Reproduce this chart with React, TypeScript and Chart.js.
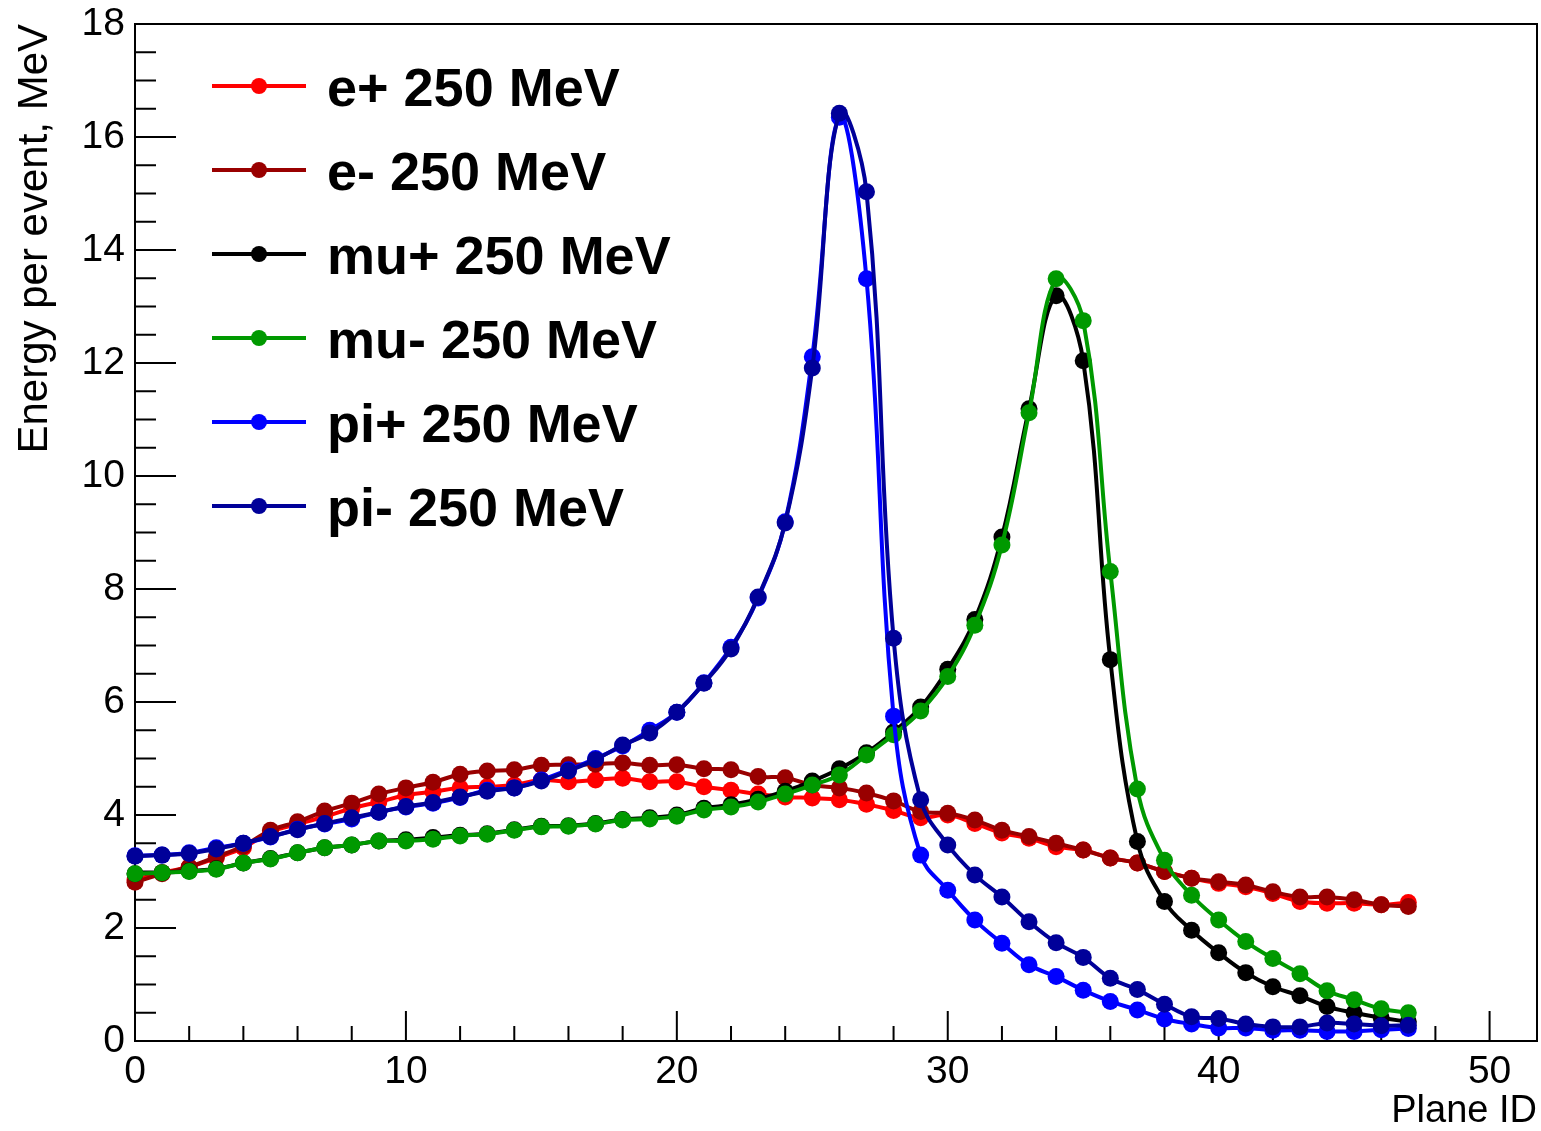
import React, { useEffect, useRef } from "react";
import { Chart, registerables } from "chart.js";

Chart.register(...registerables);

const planeIds = [
  0, 1, 2, 3, 4, 5, 6, 7, 8, 9, 10, 11, 12, 13, 14, 15, 16, 17, 18, 19, 20, 21, 22, 23,
  24, 25, 26, 27, 28, 29, 30, 31, 32, 33, 34, 35, 36, 37, 38, 39, 40, 41, 42, 43, 44, 45, 46, 47,
];

const ePlus = [
  2.85, 2.98, 3.08, 3.24, 3.42, 3.7, 3.84, 3.97, 4.12, 4.23, 4.35, 4.41, 4.48, 4.5, 4.53, 4.62,
  4.59, 4.62, 4.65, 4.59, 4.59, 4.5, 4.44, 4.37, 4.32, 4.3, 4.27, 4.19, 4.08, 3.95, 4.0, 3.85,
  3.68, 3.59, 3.44, 3.38, 3.24, 3.15, 3.0, 2.88, 2.79, 2.73, 2.61, 2.47, 2.44, 2.44, 2.41, 2.45,
];

const eMinus = [
  2.81, 2.96, 3.08, 3.26, 3.45, 3.73, 3.88, 4.07, 4.21, 4.37, 4.48, 4.58, 4.72, 4.78, 4.8, 4.88,
  4.89, 4.9, 4.92, 4.88, 4.89, 4.82, 4.8, 4.68, 4.66, 4.53, 4.48, 4.39, 4.25, 4.06, 4.03, 3.91,
  3.73, 3.62, 3.5, 3.38, 3.24, 3.15, 3.0, 2.88, 2.82, 2.76, 2.64, 2.55, 2.55, 2.5, 2.41, 2.38,
];

const muPlus = [
  2.96, 2.98, 3.01, 3.05, 3.15, 3.23, 3.33, 3.42, 3.47, 3.54, 3.56, 3.6, 3.64, 3.67, 3.74, 3.8,
  3.81, 3.85, 3.92, 3.95, 4.0, 4.12, 4.18, 4.28, 4.42, 4.6, 4.82, 5.1, 5.47, 5.91, 6.58, 7.46,
  8.92, 11.19, 13.19, 12.04, 6.75, 3.53, 2.47, 1.96, 1.56, 1.21, 0.96, 0.8, 0.61, 0.5, 0.41, 0.34,
];

const muMinus = [
  2.96, 2.98, 3.0, 3.04, 3.15, 3.22, 3.33, 3.42, 3.47, 3.54, 3.54, 3.57, 3.63, 3.66, 3.73, 3.79,
  3.8, 3.84, 3.91, 3.93, 3.98, 4.09, 4.14, 4.23, 4.37, 4.53, 4.71, 5.06, 5.42, 5.84, 6.45, 7.36,
  8.78, 11.12, 13.49, 12.75, 8.31, 4.46, 3.2, 2.58, 2.14, 1.76, 1.46, 1.19, 0.89, 0.73, 0.57, 0.5,
];

const piPlus = [
  3.28, 3.29, 3.33, 3.42, 3.5, 3.61, 3.75, 3.84, 3.93, 4.05, 4.14, 4.21, 4.31, 4.44, 4.48, 4.62,
  4.8, 5.0, 5.22, 5.5, 5.82, 6.34, 6.97, 7.84, 9.19, 12.11, 16.35, 13.49, 5.75, 3.29, 2.67, 2.14,
  1.73, 1.35, 1.14, 0.9, 0.7, 0.55, 0.39, 0.3, 0.23, 0.23, 0.19, 0.19, 0.17, 0.17, 0.2, 0.22,
];

const piMinus = [
  3.27, 3.29, 3.32, 3.4, 3.5, 3.62, 3.74, 3.85, 3.95, 4.05, 4.15, 4.22, 4.32, 4.42, 4.48, 4.6,
  4.78, 4.98, 5.24, 5.45, 5.82, 6.33, 6.94, 7.86, 9.17, 11.91, 16.42, 15.03, 7.13, 4.27, 3.47, 2.94,
  2.55, 2.11, 1.74, 1.48, 1.11, 0.91, 0.65, 0.43, 0.4, 0.3, 0.25, 0.25, 0.32, 0.3, 0.27, 0.28,
];

const seriesNames = [
  "e+ 250 MeV",
  "e- 250 MeV",
  "mu+ 250 MeV",
  "mu- 250 MeV",
  "pi+ 250 MeV",
  "pi- 250 MeV",
];

const seriesColors = ["#ff0000", "#990000", "#000000", "#009900", "#0000ff", "#000099"];

const xAxisTitle = "Plane ID";
const yAxisTitle = "Energy per event, MeV";

const FONT = "'Liberation Sans', Arial, Helvetica, sans-serif";

function zeroPadding(s: any) {
  s.paddingLeft = 0;
  s.paddingRight = 0;
  s.paddingTop = 0;
  s.paddingBottom = 0;
}

export default function App() {
  const canvasRef = useRef<HTMLCanvasElement | null>(null);

  useEffect(() => {
    const canvas = canvasRef.current;
    if (!canvas) return;

    const series = [ePlus, eMinus, muPlus, muMinus, piPlus, piMinus];

    const datasets = series.map((vals, i) => ({
      label: seriesNames[i],
      data: planeIds.map((x, j) => ({ x, y: vals[j] })),
      borderColor: seriesColors[i],
      backgroundColor: seriesColors[i],
      pointBackgroundColor: seriesColors[i],
      pointBorderColor: seriesColors[i],
      pointBorderWidth: 0,
      pointRadius: 8.5,
      borderWidth: 4,
      tension: 0.4,
      fill: false,
      clip: false as any,
      order: 5 - i,
    }));

    const framePlugin = {
      id: "rootFrame",
      beforeDatasetsDraw(chart: any) {
        const { ctx, chartArea } = chart;
        const xs = chart.scales.x;
        const ys = chart.scales.y;
        ctx.save();
        ctx.strokeStyle = "#000";
        ctx.lineWidth = 2;
        ctx.strokeRect(chartArea.left, chartArea.top, chartArea.right - chartArea.left, chartArea.bottom - chartArea.top);
        ctx.beginPath();
        for (let v = 0; v <= xs.max + 1e-9; v += 2) {
          const px = xs.getPixelForValue(v);
          const len = v % 10 === 0 ? 30 : 15;
          ctx.moveTo(px, chartArea.bottom);
          ctx.lineTo(px, chartArea.bottom - len);
        }
        for (let k = 0; k <= 36; k++) {
          const v = k * 0.5;
          const py = ys.getPixelForValue(v);
          const len = k % 4 === 0 ? 41 : 21;
          ctx.moveTo(chartArea.left, py);
          ctx.lineTo(chartArea.left + len, py);
        }
        ctx.stroke();
        ctx.restore();
      },
    };

    const legendPlugin = {
      id: "rootLegend",
      afterDatasetsDraw(chart: any) {
        const { ctx } = chart;
        ctx.save();
        seriesNames.forEach((name, i) => {
          const y = 86 + i * 84;
          ctx.strokeStyle = seriesColors[i];
          ctx.fillStyle = seriesColors[i];
          ctx.lineWidth = 4;
          ctx.beginPath();
          ctx.moveTo(212, y);
          ctx.lineTo(306, y);
          ctx.stroke();
          ctx.beginPath();
          ctx.arc(259, y, 8, 0, Math.PI * 2);
          ctx.fill();
          ctx.fillStyle = "#000";
          ctx.font = `bold 54px ${FONT}`;
          ctx.textBaseline = "alphabetic";
          ctx.textAlign = "left";
          ctx.fillText(name, 327, y + 20);
        });
        ctx.restore();
      },
    };

    const chart = new Chart(canvas, {
      type: "line",
      data: { datasets: datasets as any },
      options: {
        responsive: false,
        animation: false,
        devicePixelRatio: 1,
        layout: { autoPadding: false, padding: { top: 24, right: 4, left: 0, bottom: 0 } },
        plugins: {
          legend: { display: false },
          tooltip: { enabled: false },
        },
        scales: {
          x: {
            type: "linear",
            min: 0,
            max: 51.75,
            afterFit: (s: any) => {
              s.height = 90;
              zeroPadding(s);
            },
            grid: { display: false, drawTicks: false },
            border: { display: true, color: "#000", width: 2 },
            ticks: {
              stepSize: 10,
              includeBounds: false,
              padding: 8,
              color: "#000",
              maxRotation: 0,
              autoSkip: false,
              font: { family: FONT, size: 39 },
            },
            title: {
              display: true,
              text: xAxisTitle,
              align: "end",
              color: "#000",
              padding: 0,
              font: { family: FONT, size: 38, lineHeight: 1.0 },
            },
          },
          y: {
            type: "linear",
            min: 0,
            max: 18,
            afterFit: (s: any) => {
              s.width = 135;
              zeroPadding(s);
            },
            grid: { display: false, drawTicks: false },
            border: { display: true, color: "#000", width: 2 },
            ticks: {
              stepSize: 2,
              includeBounds: false,
              padding: 10,
              color: "#000",
              font: { family: FONT, size: 39 },
            },
            title: {
              display: true,
              text: yAxisTitle,
              align: "end",
              color: "#000",
              padding: { top: 10, bottom: 0 },
              font: { family: FONT, size: 42 },
            },
          },
        },
      },
      plugins: [framePlugin, legendPlugin],
    });

    return () => chart.destroy();
  }, []);

  return (
    <div style={{ position: "absolute", left: 0, top: 0, width: 1541, height: 1131, background: "#fff" }}>
      <canvas ref={canvasRef} width={1541} height={1131} style={{ display: "block" }} />
    </div>
  );
}
